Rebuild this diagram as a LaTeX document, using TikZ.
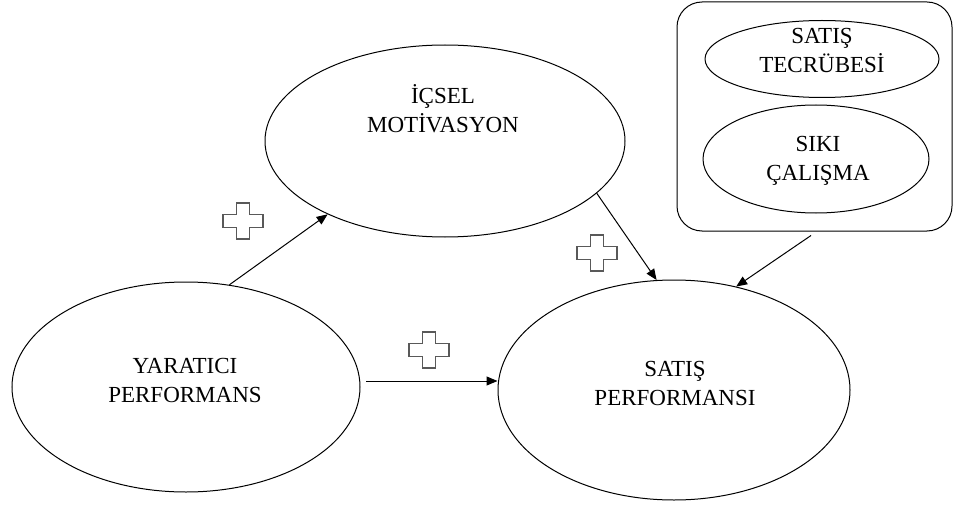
\documentclass[tikz,border=0pt]{standalone}
\usepackage{fontspec}
\setmainfont{Liberation Serif}
\usetikzlibrary{shapes.geometric,arrows.meta}
\tikzset{
  oval/.style={ellipse, draw=black, line width=1pt, inner sep=0pt},
  lbl/.style={align=center, inner sep=0pt, font=\fontsize{23}{29}\selectfont},
  arr/.style={line width=1pt, -{Triangle[length=11pt,width=9pt]}},
  plusline/.style={draw=black!65, line width=1.6pt, line join=miter},
  plussign/.pic={\draw[plusline] (-20,-6.5) -- (-6.5,-6.5) -- (-6.5,-18) -- (6.5,-18) -- (6.5,-6.5) -- (20,-6.5) -- (20,6.5) -- (6.5,6.5) -- (6.5,18) -- (-6.5,18) -- (-6.5,6.5) -- (-20,6.5) -- cycle;}
}
\begin{document}
\begin{tikzpicture}[x=1pt,y=-1pt]
\useasboundingbox (0,0) rectangle (953,508);
% moderator box
\node[draw=black, line width=1pt, rounded corners=25pt, minimum width=275pt, minimum height=229pt, inner sep=0pt] (box) at (814.5,116.5) {};
% ellipses
\node[oval, minimum width=348pt, minimum height=210pt] (yar) at (186,387) {};
\node[oval, minimum width=360pt, minimum height=192pt] (ic) at (445,141) {};
\node[oval, minimum width=352pt, minimum height=220pt] (sat) at (674,390) {};
\node[oval, minimum width=234pt, minimum height=77pt] (tec) at (822,59) {};
\node[oval, minimum width=226pt, minimum height=108pt] (siki) at (816,159) {};
% labels
\node[lbl] (yart) at (185,380.5) {YARATICI\\PERFORMANS};
\node[lbl] (ict) at (443,108.5) {İÇSEL\\MOTİVASYON};
\node[lbl] (satt) at (675,383) {SATIŞ\\PERFORMANSI};
\node[lbl] (tect) at (822,50.5) {SATIŞ\\TECRÜBESİ};
\node[lbl] (sikit) at (818,160.5) {SIKI\\ÇALIŞMA};
% connectors
\coordinate (hs) at (366,381);
\draw[arr] (yar.67) -- (ic.212);
\draw[arr] (ic.341) -- (sat.99);
\draw[arr] (hs) -- (hs -| sat.west);
\draw[arr] ([xshift=-3.5pt,yshift=-4pt]box.south) -- (sat.59);
% plus signs
\pic at (243,221) {plussign};
\pic at (597,253) {plussign};
\pic at (429,350) {plussign};
\end{tikzpicture}
\end{document}
